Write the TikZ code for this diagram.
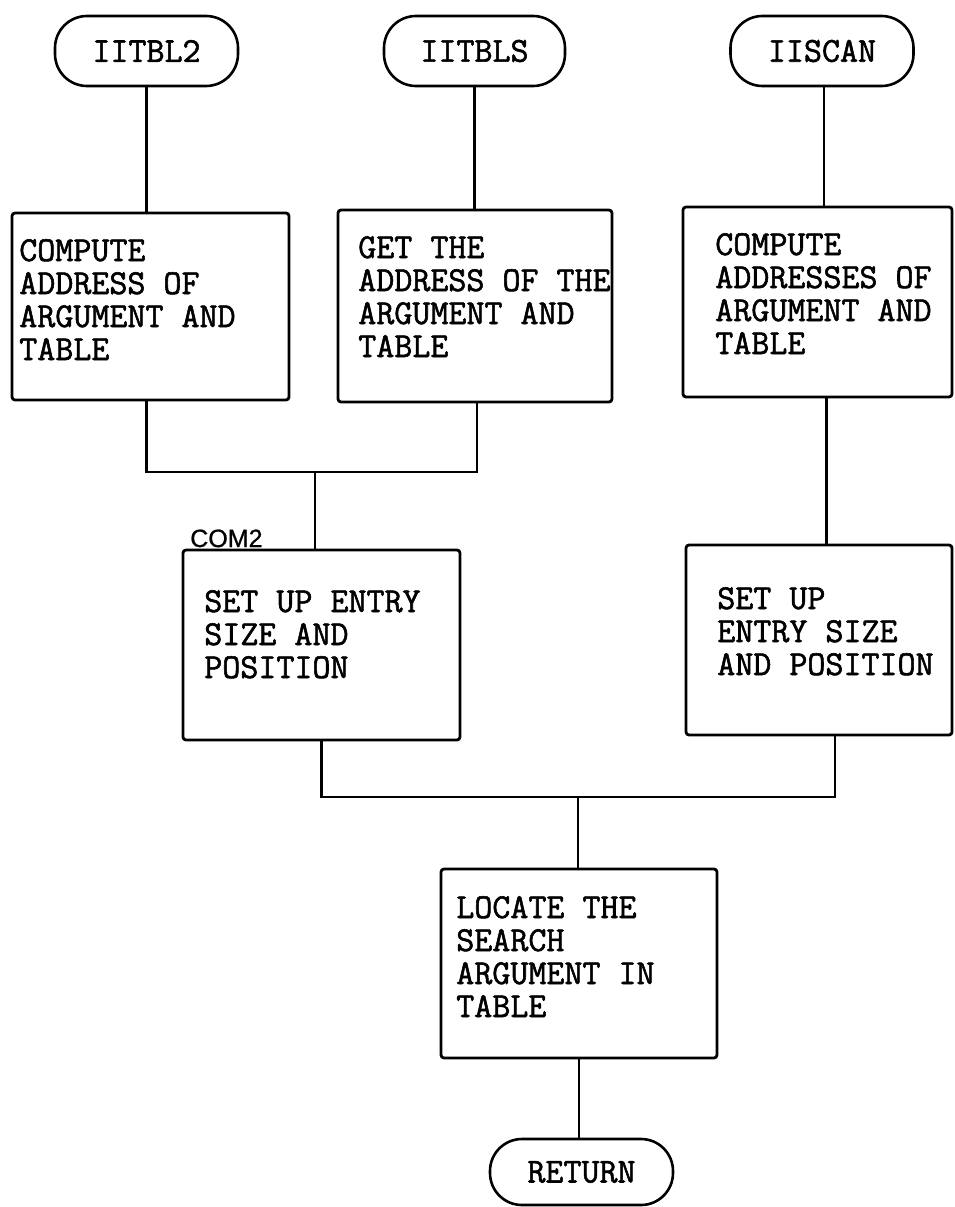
\documentclass[tikz,border=0pt]{standalone}
\usepackage{fontspec}
\setmainfont{Liberation Serif}
\newfontfamily\typew{Latin Modern Mono}[FakeBold=1.6]
\newfontfamily\sanslab{Liberation Sans}[FakeBold=0.8]
\usetikzlibrary{calc}
\begin{document}
\begin{tikzpicture}[x=1pt,y=-1pt,line width=2.6pt,
  term/.style={draw,rounded corners=32pt,minimum height=70pt,inner sep=0pt,font=\typew\fontsize{35}{33}\selectfont},
  proc/.style={draw,line width=2.8pt,rounded corners=3pt,inner sep=0pt},
  txt/.style={anchor=base west,align=left,inner sep=0pt,font=\typew\fontsize{35}{33}\selectfont},
  lbl/.style={anchor=base west,inner sep=0pt,font=\sanslab\fontsize{25}{28}\selectfont}]
\useasboundingbox (0,0) rectangle (954,1207);
% terminals
\node[term,minimum width=183pt] (t1) at (146.5,51) {IITBL2};
\node[term,minimum width=181pt] (t2) at (474.5,51) {IITBLS};
\node[term,minimum width=183pt] (t3) at (822,51) {IISCAN};
\node[term,minimum width=183pt,minimum height=66pt] (tr) at (581.5,1172) {RETURN};
% process boxes
\node[proc,minimum width=277pt,minimum height=187pt] (b1) at (150.5,306.5) {};
\node[proc,minimum width=274pt,minimum height=192pt] (b2) at (475,306) {};
\node[proc,minimum width=269pt,minimum height=190pt] (b3) at (817.5,302) {};
\node[proc,minimum width=277pt,minimum height=190pt] (c2) at (321.5,645) {};
\node[proc,minimum width=266pt,minimum height=190pt] (b4) at (819,640) {};
\node[proc,minimum width=276pt,minimum height=189pt] (b5) at (579,963.5) {};
% texts (anchor is the baseline of the last line)
\node[txt] (b1t) at (18,360) {COMPUTE\\ADDRESS OF\\ARGUMENT AND\\TABLE};
\node[txt] (b2t) at (357,357) {GET THE\\ADDRESS OF THE\\ARGUMENT AND\\TABLE};
\node[txt] (b3t) at (714,354) {COMPUTE\\ADDRESSES OF\\ARGUMENT AND\\TABLE};
\node[txt] (c2t) at (203,678) {SET UP ENTRY\\SIZE AND\\POSITION};
\node[txt] (b4t) at (716,675) {SET UP\\ENTRY SIZE\\AND POSITION};
\node[txt] (b5t) at (455,1017) {LOCATE THE\\SEARCH\\ARGUMENT IN\\TABLE};
\node[lbl] (com2) at (189,547) {COM2};
% connectors
\draw (t1.south) -- (t1.south |- b1.north);
\draw (t2.south) -- (t2.south |- b2.north);
\draw ([xshift=2pt]t3.south) -- ([xshift=2pt]t3.south |- b3.north);
\coordinate (j1) at (315,472);
\draw (t1.south |- b1.south) |- (j1) -| ([xshift=2pt]b2.south);
\draw (j1) -- (j1 |- c2.north);
\draw ([xshift=9pt]b3.south) -- ([xshift=9pt]b3.south |- b4.north);
\coordinate (j2) at (578,797);
\draw (c2.south) |- (j2) -| ([xshift=16pt]b4.south);
\draw (j2) -- (j2 |- b5.north);
\draw (b5.south) -- (b5.south |- tr.north);
\end{tikzpicture}
\end{document}
